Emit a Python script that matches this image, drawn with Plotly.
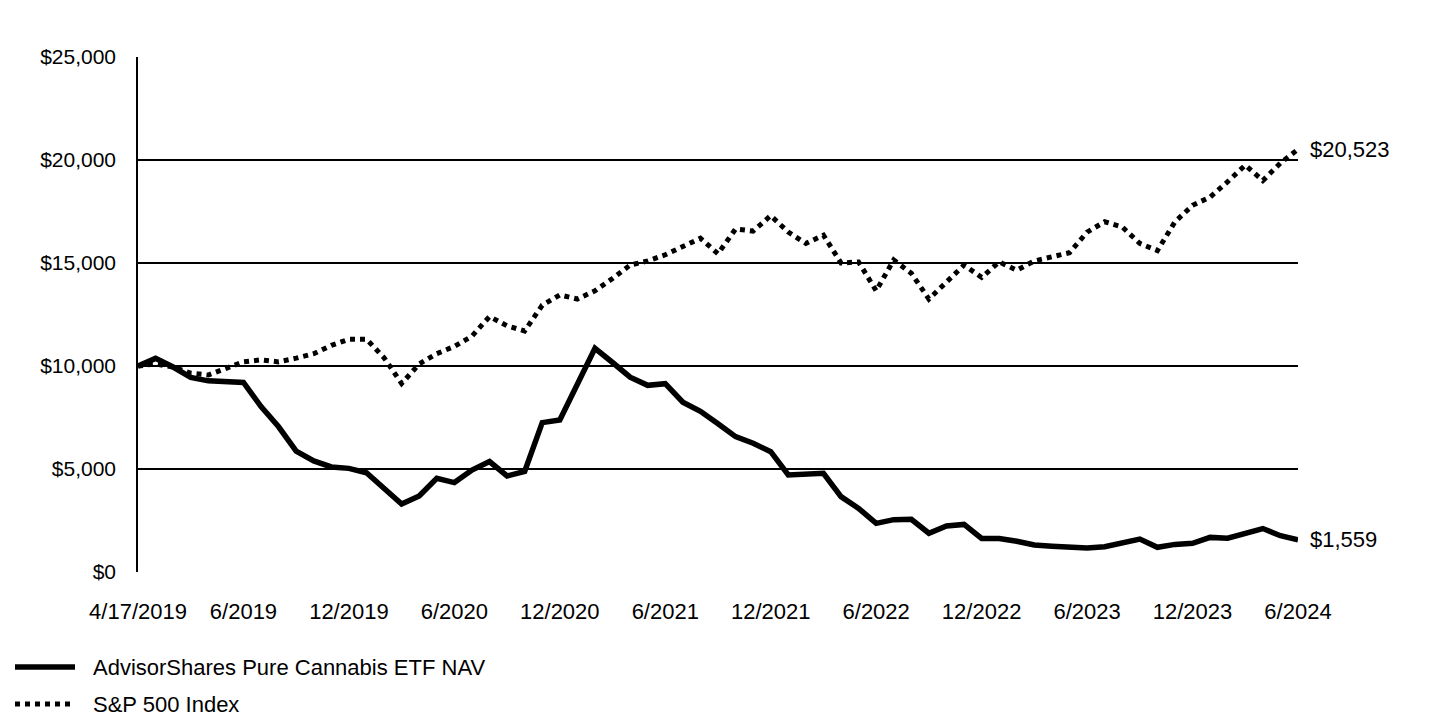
import plotly.graph_objects as go

# Monthly observation index (67 points, first = 4/17/2019 inception)
periods = list(range(67))

tick_positions = [0, 6, 12, 18, 24, 30, 36, 42, 48, 54, 60, 66]
tick_labels = ["4/17/2019", "6/2019", "12/2019", "6/2020", "12/2020", "6/2021",
               "12/2021", "6/2022", "12/2022", "6/2023", "12/2023", "6/2024"]

fund_name = "AdvisorShares Pure Cannabis ETF NAV"
index_name = "S&P 500 Index"

fund_values = [
    10000, 10370, 9950, 9450, 9280, 9250, 9200, 8030, 7050, 5870,
    5390, 5100, 5030, 4820, 4060, 3300, 3690, 4550, 4340, 4950,
    5360, 4660, 4880, 7250, 7380, 9100, 10860, 10170, 9460, 9060,
    9140, 8240, 7800, 7200, 6570, 6250, 5840, 4710, 4740, 4790,
    3660, 3090, 2360, 2540, 2560, 1880, 2230, 2310, 1630, 1630,
    1490, 1310, 1250, 1190, 1160, 1230, 1420, 1600, 1200, 1340,
    1390, 1680, 1640, 1880, 2110, 1760, 1559,
]

index_values = [
    10000, 10100, 9950, 9650, 9560, 9900, 10200, 10300, 10200, 10380,
    10600, 11000, 11300, 11300, 10400, 9150, 10100, 10600, 10950, 11450,
    12400, 11950, 11700, 12950, 13450, 13250, 13650, 14250, 14900, 15100,
    15400, 15800, 16200, 15450, 16650, 16550, 17300, 16500, 15950, 16350,
    15000, 15050, 13650, 15150, 14500, 13250, 14050, 14900, 14300, 15050,
    14650, 15100, 15300, 15500, 16500, 17000, 16750, 15950, 15600, 17000,
    17800, 18200, 18950, 19750, 19000, 19850, 20523,
]

FONT = "Arial, Liberation Sans, sans-serif"

# The page adds an 8px body margin; lay the figure out in page pixels minus 8.
OFF = 8
FIG_W, FIG_H = 1440 - OFF, 720 - OFF
L, W, T, H = 138 - OFF, 1160, 57 - OFF, 515

fig = go.Figure()
fig.add_trace(go.Scatter(
    x=periods, y=index_values, mode="lines", name=index_name,
    line=dict(color="black", width=5, dash="dot"), showlegend=False,
))
fig.add_trace(go.Scatter(
    x=periods, y=fund_values, mode="lines", name=fund_name,
    line=dict(color="black", width=5.5), showlegend=False,
))

# End-value labels
for vals in (index_values, fund_values):
    fig.add_annotation(
        x=periods[-1], y=vals[-1], text=f"${vals[-1]:,}", showarrow=False,
        xanchor="left", yanchor="middle", xshift=10,
        font=dict(family=FONT, size=22, color="black"),
    )

# Custom legend (long line samples as in the reference), page pixel positions
def px_x(p):
    return (p - OFF - L) / W
def px_y(p):
    return (T + H - (p - OFF)) / H

legend_items = [(fund_name, "solid", 667, 5.5), (index_name, "dot", 704, 5)]
for name, dash, ypx, lw in legend_items:
    fig.add_shape(type="line", xref="paper", yref="paper",
                  x0=px_x(15), x1=px_x(75), y0=px_y(ypx), y1=px_y(ypx),
                  line=dict(color="black", width=lw, dash=dash))
    fig.add_annotation(xref="paper", yref="paper", x=px_x(91), y=px_y(ypx),
                       text=name, showarrow=False, xanchor="left", yanchor="middle",
                       font=dict(family=FONT, size=22, color="black"))

fig.update_layout(
    width=FIG_W, height=FIG_H,
    margin=dict(l=L, r=FIG_W - L - W, t=T, b=FIG_H - T - H),
    paper_bgcolor="white", plot_bgcolor="white",
    font=dict(family=FONT, size=22, color="black"),
    showlegend=False,
)
fig.update_xaxes(
    range=[0, 66], tickmode="array", tickvals=tick_positions, ticktext=tick_labels,
    showgrid=False, zeroline=False, showline=False, ticks="",
    ticklabelstandoff=24, tickfont=dict(family=FONT, size=22, color="black"),
)
fig.update_yaxes(
    range=[0, 25000], dtick=5000, tickprefix="$", tickformat=",",
    showgrid=True, gridcolor="black", gridwidth=1.5,
    zeroline=False, showline=True, linecolor="black", linewidth=1.5,
    ticks="", ticklabelstandoff=16, tickfont=dict(family=FONT, size=21, color="black"),
)

fig.write_html("out.html")
